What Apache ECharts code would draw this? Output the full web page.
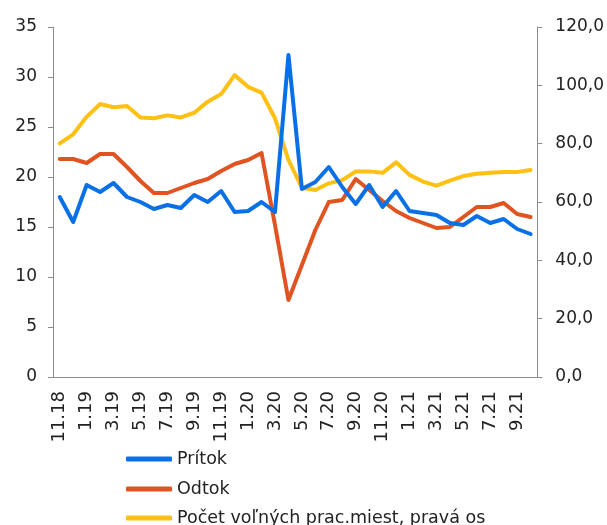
<!DOCTYPE html>
<html><head><meta charset="utf-8">
<script src="https://cdn.jsdelivr.net/npm/echarts@6/dist/echarts.min.js"></script>
<style>html,body{margin:0;padding:0;background:#fff}#c{width:607px;height:525px}</style>
</head><body><div id="c"></div>
<script>
var categories = ['11.18','12.18','1.19','2.19','3.19','4.19','5.19','6.19','7.19','8.19','9.19','10.19','11.19','12.19',
 '1.20','2.20','3.20','4.20','5.20','6.20','7.20','8.20','9.20','10.20','11.20','12.20',
 '1.21','2.21','3.21','4.21','5.21','6.21','7.21','8.21','9.21','10.21'];
var pritok = [18.0,15.5,19.2,18.5,19.4,18.0,17.5,16.8,17.2,16.9,18.2,17.5,18.6,16.5,16.6,17.5,16.5,32.2,
 18.8,19.5,21.0,19.0,17.3,19.2,17.0,18.6,16.6,16.4,16.2,15.4,15.2,16.1,15.4,15.8,14.8,14.3];
var odtok = [21.8,21.8,21.4,22.3,22.3,21.0,19.6,18.4,18.4,18.9,19.4,19.8,20.6,21.3,21.7,22.4,15.2,7.7,
 11.2,14.7,17.5,17.7,19.8,18.7,17.6,16.6,15.9,15.4,14.9,15.0,16.0,17.0,17.0,17.4,16.3,16.0];
var volneMiesta = [80.1,83.2,89.2,93.6,92.5,92.9,89.0,88.7,89.7,89.0,90.6,94.4,97.0,103.5,99.5,97.5,88.7,74.4,
 64.9,64.1,66.4,67.5,70.5,70.5,70.0,73.6,69.3,67.0,65.6,67.3,68.9,69.7,70.0,70.3,70.3,71.0];
var seriesNames = ['Prítok','Odtok','Počet voľných prac.miest, pravá os'];
var seriesColors = ['#0A70E6','#DF5420','#FFC014'];
var leftTicks = {min:0, max:35, interval:5};
var rightTicks = {min:0, max:120, interval:20};

var font = 'DejaVu Sans';
var axisCol = '#8c8c8c';
var legendTops = [445, 475, 504];
var legends = seriesNames.map(function(n, i){
  return {
    orient:'vertical', left:121, top:legendTops[i],
    itemWidth:46, itemHeight:5, icon:'roundRect',
    textStyle:{fontFamily:font, fontSize:17.5, color:'#222'},
    data:[n]
  };
});
var chart = echarts.init(document.getElementById('c'), null, {renderer:'canvas'});
chart.setOption({
  animation:false,
  backgroundColor:'#fff',
  grid:{left:53, right:69, top:27, bottom:148},
  legend:legends,
  xAxis:{
    type:'category', data:categories, boundaryGap:true,
    axisLine:{lineStyle:{color:axisCol, width:1}},
    axisTick:{interval:1, length:5, lineStyle:{color:axisCol}},
    axisLabel:{interval:1, rotate:90, fontFamily:font, fontSize:18, color:'#222', margin:14}
  },
  yAxis:[{
    type:'value', min:leftTicks.min, max:leftTicks.max, interval:leftTicks.interval,
    splitLine:{show:false},
    axisLine:{show:true, lineStyle:{color:axisCol}},
    axisTick:{show:true, length:5, lineStyle:{color:axisCol}},
    axisLabel:{fontFamily:font, fontSize:17, color:'#222', margin:16}
  },{
    type:'value', min:rightTicks.min, max:rightTicks.max, interval:rightTicks.interval,
    position:'right',
    splitLine:{show:false},
    axisLine:{show:true, lineStyle:{color:axisCol}},
    axisTick:{show:true, length:5, lineStyle:{color:axisCol}},
    axisLabel:{fontFamily:font, fontSize:17, color:'#222', margin:18,
      formatter:function(v){return v.toFixed(1).replace('.', ',');}}
  }],
  series:[
    {name:seriesNames[0], type:'line', data:pritok, yAxisIndex:0, symbol:'none',
     lineStyle:{width:4, color:seriesColors[0], cap:'round', join:'round'}, itemStyle:{color:seriesColors[0]}, z:3},
    {name:seriesNames[1], type:'line', data:odtok, yAxisIndex:0, symbol:'none',
     lineStyle:{width:4, color:seriesColors[1], cap:'round', join:'round'}, itemStyle:{color:seriesColors[1]}, z:2},
    {name:seriesNames[2], type:'line', data:volneMiesta, yAxisIndex:1, symbol:'none',
     lineStyle:{width:4, color:seriesColors[2], cap:'round', join:'round'}, itemStyle:{color:seriesColors[2]}, z:1}
  ]
});
</script></body></html>
